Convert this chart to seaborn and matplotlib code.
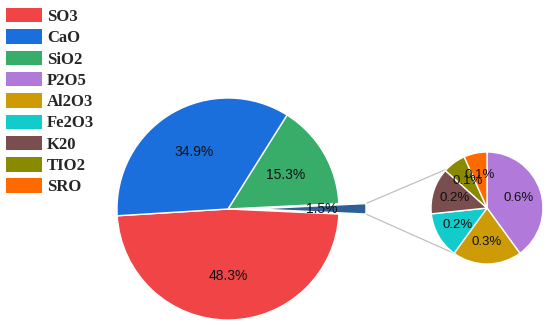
import numpy as np
import matplotlib
matplotlib.use("Agg")
import matplotlib.pyplot as plt
import matplotlib.patches as mpatches
import seaborn as sns

# ── data ─────────────────────────────────────
main_labels = ["SO3", "Other", "SiO2", "CaO"]
main_values = [48.3, 1.5, 15.3, 34.9]
main_colors = ["#f04446", "#2f5f97", "#38ad6a", "#1a6fdc"]

small_labels = ["P2O5", "Al2O3", "Fe2O3", "K20", "TIO2", "SRO"]
small_values = [0.6, 0.3, 0.2, 0.2, 0.1, 0.1]
small_colors = ["#b17ada", "#cc9b06", "#12cccc", "#7a4e4e", "#8a8a00", "#ff6a00"]

legend_labels = ["SO3", "CaO", "SiO2"] + small_labels
legend_colors = ["#f04446", "#1a6fdc", "#38ad6a"] + small_colors

sns.set_theme(style="white")
plt.rcParams["font.family"] = ["Liberation Sans", "DejaVu Sans"]

W, H = 550, 325
fig = plt.figure(figsize=(W / 100, H / 100), dpi=100)
ax = fig.add_axes([0, 0, 1, 1])

# main pie (data units = pixels)
main_c = (228, H - 209)
main_r = 111
explode = [0, 27, 0, 0]
wedges, texts, autotexts = ax.pie(
    main_values, center=main_c, radius=main_r, colors=main_colors,
    explode=explode, startangle=183.5, counterclock=True,
    autopct="%.1f%%", pctdistance=0.6,
    wedgeprops=dict(edgecolor="white", linewidth=1),
    textprops=dict(fontsize=10, color="#111111"))

# small pie
small_c = (487, H - 208)
small_r = 56
vals_iter = iter(small_values)
s_wedges, s_texts, s_autotexts = ax.pie(
    small_values, center=small_c, radius=small_r, colors=small_colors,
    startangle=90, counterclock=False,
    autopct=lambda p: f"{next(vals_iter):.1f}%", pctdistance=0.6,
    wedgeprops=dict(edgecolor="white", linewidth=1),
    textprops=dict(fontsize=9.5, color="#111111"))

# connector lines from exploded wedge to small pie
ow = wedges[1]
cx, cy = ow.center
p_top = (cx + ow.r * np.cos(np.radians(ow.theta2)), cy + ow.r * np.sin(np.radians(ow.theta2)))
p_bot = (cx + ow.r * np.cos(np.radians(ow.theta1)), cy + ow.r * np.sin(np.radians(ow.theta1)))
a_top = np.radians(s_wedges[-1].theta1)
a_bot = np.radians(s_wedges[1].theta1)
q_top = (small_c[0] + small_r * np.cos(a_top), small_c[1] + small_r * np.sin(a_top))
q_bot = (small_c[0] + small_r * np.cos(a_bot), small_c[1] + small_r * np.sin(a_bot))
ax.plot([p_top[0], q_top[0]], [p_top[1], q_top[1]], color="#c0c0c0", lw=0.9, zorder=0)
ax.plot([p_bot[0], q_bot[0]], [p_bot[1], q_bot[1]], color="#c0c0c0", lw=0.9, zorder=0)

ax.set_xlim(0, W)
ax.set_ylim(0, H)
ax.set_aspect("equal")
ax.axis("off")

# legend
handles = [mpatches.Patch(facecolor=c, edgecolor="none") for c in legend_colors]
fig.legend(handles, legend_labels, loc="upper left",
           bbox_to_anchor=(6 / W, 1 - 8 / H), frameon=False,
           borderpad=0, borderaxespad=0,
           handlelength=2.17, handleheight=0.96, handletextpad=0.3,
           labelspacing=0.26,
           prop=dict(family="Liberation Serif", weight="bold", size=12))

fig.savefig("out.png", dpi=100)
